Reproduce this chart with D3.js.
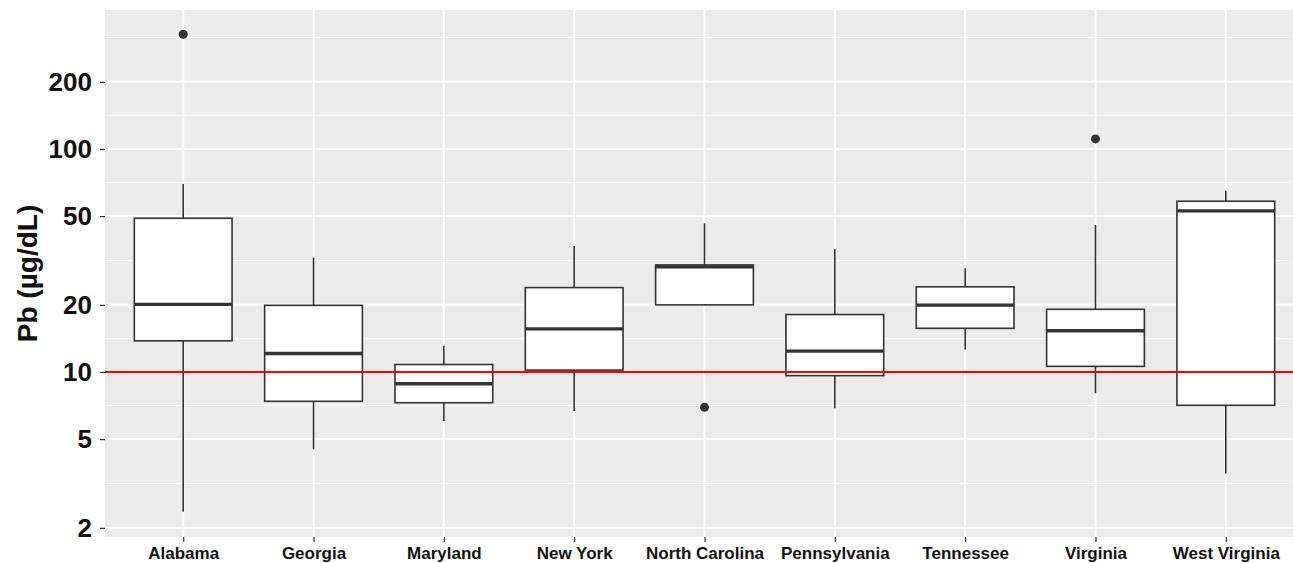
<!DOCTYPE html>
<html>
<head>
<meta charset="utf-8">
<script src="https://cdn.jsdelivr.net/npm/d3@7"></script>
<style>
  html, body { margin: 0; padding: 0; background: #fff; }
  svg { display: block; font-family: "Liberation Sans", Arial, sans-serif; }
</style>
</head>
<body>
<div id="chart"></div>
<script>
// categories and five-number summaries
const states = ["Alabama", "Georgia", "Maryland", "New York", "North Carolina",
  "Pennsylvania", "Tennessee", "Virginia", "West Virginia"];
const lowerWhisker = [2.36, 4.5, 6.03, 6.68, 20.0, 6.87, 12.6, 8.03, 3.51];
const q1 = [13.8, 7.39, 7.28, 10.2, 20.0, 9.63, 15.7, 10.6, 7.09];
const median = [20.1, 12.1, 8.86, 15.6, 29.6, 12.4, 19.95, 15.3, 52.8];
const q3 = [48.9, 19.9, 10.8, 23.9, 30.2, 18.1, 24.1, 19.1, 58.3];
const upperWhisker = [69.7, 32.6, 13.1, 36.7, 46.4, 35.5, 29.2, 45.6, 64.9];
const outliers = [
  { state: "Alabama", value: 327 },
  { state: "North Carolina", value: 6.95 },
  { state: "Virginia", value: 111 }
];
const yTicks = [2, 5, 10, 20, 50, 100, 200];
const yMinor = [3.16, 7.07, 14.1, 31.6, 70.7, 141, 316];
const referenceLevel = 10;

const width = 1293;
const height = 563;
const panel = { left: 105, right: 1304, top: 10, bottom: 537 };

const svg = d3.select("#chart")
  .append("svg")
  .attr("width", width)
  .attr("height", height);

const x = d3.scalePoint()
  .domain(states)
  .range([panel.left, panel.right])
  .padding(0.6);

const y = d3.scaleLog()
  .domain([1.82, 420])
  .range([panel.bottom, panel.top]);

const boxWidth = x.step() * 0.75;

// panel background
svg.append("rect")
  .attr("x", panel.left)
  .attr("y", panel.top)
  .attr("width", panel.right - panel.left)
  .attr("height", panel.bottom - panel.top)
  .attr("fill", "#ebebeb");

// grid
svg.append("g")
  .selectAll("line")
  .data(yMinor)
  .join("line")
  .attr("x1", panel.left)
  .attr("x2", panel.right)
  .attr("y1", (d) => y(d))
  .attr("y2", (d) => y(d))
  .attr("stroke", "#fff")
  .attr("stroke-width", 1);

svg.append("g")
  .selectAll("line")
  .data(yTicks)
  .join("line")
  .attr("x1", panel.left)
  .attr("x2", panel.right)
  .attr("y1", (d) => y(d))
  .attr("y2", (d) => y(d))
  .attr("stroke", "#fff")
  .attr("stroke-width", 2);

svg.append("g")
  .selectAll("line")
  .data(states)
  .join("line")
  .attr("x1", (d) => x(d))
  .attr("x2", (d) => x(d))
  .attr("y1", panel.top)
  .attr("y2", panel.bottom)
  .attr("stroke", "#fff")
  .attr("stroke-width", 2);

// boxplots
const boxes = svg.append("g")
  .selectAll("g")
  .data(states.map((s, i) => ({
    state: s, lo: lowerWhisker[i], q1: q1[i], med: median[i], q3: q3[i], hi: upperWhisker[i]
  })))
  .join("g");

boxes.append("line")
  .attr("x1", (d) => x(d.state))
  .attr("x2", (d) => x(d.state))
  .attr("y1", (d) => y(d.hi))
  .attr("y2", (d) => y(d.q3))
  .attr("stroke", "#333")
  .attr("stroke-width", 1.6);

boxes.append("line")
  .attr("x1", (d) => x(d.state))
  .attr("x2", (d) => x(d.state))
  .attr("y1", (d) => y(d.q1))
  .attr("y2", (d) => y(d.lo))
  .attr("stroke", "#333")
  .attr("stroke-width", 1.6);

boxes.append("rect")
  .attr("x", (d) => x(d.state) - boxWidth / 2)
  .attr("width", boxWidth)
  .attr("y", (d) => y(d.q3))
  .attr("height", (d) => y(d.q1) - y(d.q3))
  .attr("fill", "#fff")
  .attr("stroke", "#333")
  .attr("stroke-width", 1.6);

boxes.append("line")
  .attr("x1", (d) => x(d.state) - boxWidth / 2)
  .attr("x2", (d) => x(d.state) + boxWidth / 2)
  .attr("y1", (d) => y(d.med))
  .attr("y2", (d) => y(d.med))
  .attr("stroke", "#333")
  .attr("stroke-width", 3.4);

svg.append("g")
  .selectAll("circle")
  .data(outliers)
  .join("circle")
  .attr("cx", (d) => x(d.state))
  .attr("cy", (d) => y(d.value))
  .attr("r", 4.5)
  .attr("fill", "#333");

// reference line at 10
svg.append("line")
  .attr("x1", panel.left)
  .attr("x2", panel.right)
  .attr("y1", y(referenceLevel))
  .attr("y2", y(referenceLevel))
  .attr("stroke", "#ff0000")
  .attr("stroke-width", 2);

// y axis
const yAxis = d3.axisLeft(y)
  .tickValues(yTicks)
  .tickFormat(d3.format("d"))
  .tickSize(5)
  .tickPadding(8);

const gy = svg.append("g")
  .attr("transform", `translate(${panel.left},0)`)
  .call(yAxis);
gy.select(".domain").remove();
gy.selectAll(".tick line").attr("stroke", "#333").attr("stroke-width", 1.2);
gy.selectAll(".tick text")
  .attr("fill", "#111")
  .style("font-size", "26px")
  .style("font-weight", "bold");

// x axis
const xAxis = d3.axisBottom(x)
  .tickSize(5)
  .tickPadding(5);

const gx = svg.append("g")
  .attr("transform", `translate(0,${panel.bottom})`)
  .call(xAxis);
gx.select(".domain").remove();
gx.selectAll(".tick line").attr("stroke", "#333").attr("stroke-width", 1.2);
gx.selectAll(".tick text")
  .attr("fill", "#111")
  .style("font-size", "17px")
  .style("font-weight", "bold");

// y title
svg.append("text")
  .attr("transform", `translate(37,${(panel.top + panel.bottom) / 2}) rotate(-90)`)
  .attr("text-anchor", "middle")
  .attr("fill", "#111")
  .style("font-size", "28px")
  .style("font-weight", "bold")
  .text("Pb (µg/dL)");
</script>
</body>
</html>
